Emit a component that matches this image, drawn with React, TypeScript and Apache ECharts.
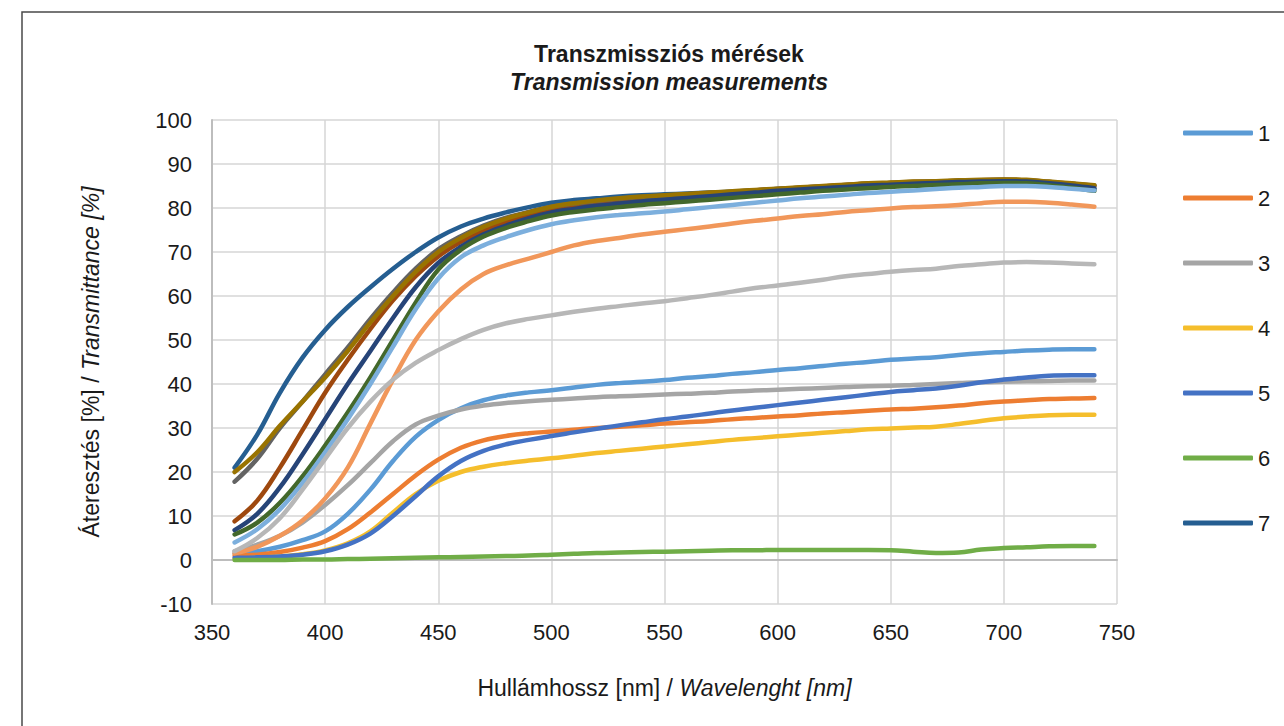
import React, { useEffect, useRef } from "react";
import * as echarts from "echarts";

const wavelengths = [360, 370, 380, 390, 400, 410, 420, 430, 440, 450, 460, 470, 480, 490, 500, 510, 520, 530, 540, 550, 560, 570, 580, 590, 600, 610, 620, 630, 640, 650, 660, 670, 680, 690, 700, 710, 720, 730, 740];

const s1 = [1.5, 2, 3, 4.5, 6.5, 10.5, 16, 22.5, 28, 31.8, 34.5, 36.3, 37.4, 38.1, 38.6, 39.2, 39.8, 40.2, 40.5, 40.9, 41.4, 41.8, 42.3, 42.7, 43.2, 43.6, 44.1, 44.6, 45, 45.5, 45.8, 46.1, 46.6, 47, 47.3, 47.6, 47.8, 47.9, 47.9];
const s2 = [1, 1.2, 1.8, 2.8, 4.3, 7, 10.8, 15, 19.2, 22.8, 25.5, 27.2, 28.2, 28.8, 29.2, 29.6, 30, 30.3, 30.6, 31, 31.3, 31.6, 32, 32.3, 32.6, 32.9, 33.3, 33.6, 33.9, 34.2, 34.4, 34.7, 35.1, 35.6, 36, 36.3, 36.6, 36.7, 36.8];
const s3 = [2, 3.5, 5.5, 8.5, 12.5, 17, 22, 27, 30.8, 32.8, 34.2, 35.1, 35.7, 36.1, 36.4, 36.7, 37, 37.2, 37.4, 37.6, 37.8, 38, 38.3, 38.5, 38.7, 38.9, 39.1, 39.3, 39.5, 39.6, 39.8, 40, 40.2, 40.4, 40.5, 40.6, 40.7, 40.8, 40.8];
const s4 = [0.3, 0.5, 0.8, 1.3, 2.2, 3.8, 6.5, 10.8, 15, 18, 20, 21.2, 22, 22.6, 23.1, 23.7, 24.3, 24.8, 25.3, 25.8, 26.3, 26.8, 27.3, 27.7, 28.1, 28.5, 28.9, 29.3, 29.7, 29.9, 30.1, 30.3, 30.9, 31.6, 32.2, 32.6, 32.9, 33, 33];
const s5 = [0.5, 0.6, 0.8, 1.2, 2, 3.5, 6, 10, 14.5, 19, 22.5, 24.8, 26.3, 27.3, 28.2, 29, 29.8, 30.6, 31.3, 32, 32.6, 33.3, 34, 34.6, 35.2, 35.8, 36.4, 37, 37.6, 38.2, 38.6, 39, 39.6, 40.4, 41, 41.5, 41.9, 42, 42];
const s6 = [0, 0, 0, 0.1, 0.1, 0.2, 0.3, 0.4, 0.5, 0.6, 0.7, 0.8, 0.9, 1, 1.2, 1.4, 1.6, 1.7, 1.8, 1.9, 2, 2.1, 2.2, 2.2, 2.3, 2.3, 2.3, 2.3, 2.3, 2.2, 1.9, 1.6, 1.7, 2.4, 2.7, 2.9, 3.1, 3.2, 3.2];
const s7 = [21, 28.5, 38, 46, 52.3, 57.5, 62, 66.2, 70, 73.3, 75.8, 77.6, 79, 80.2, 81.2, 81.8, 82.2, 82.6, 82.9, 83.1, 83.3, 83.5, 83.7, 84, 84.3, 84.5, 84.7, 84.9, 85.1, 85.3, 85.5, 85.6, 85.8, 85.9, 86, 85.9, 85.5, 85, 84.3];
const s8 = [8.8, 13.5, 21, 29.5, 38, 45.5, 52.5, 59, 64.5, 69, 72.3, 74.8, 76.8, 78.3, 79.6, 80.4, 81.1, 81.6, 82, 82.4, 82.8, 83.2, 83.6, 84, 84.3, 84.6, 84.9, 85.2, 85.5, 85.7, 85.9, 86, 86.2, 86.3, 86.4, 86.3, 85.9, 85.5, 85];
const s9 = [17.8, 23, 30, 36, 42.2, 48.3, 54.8, 60.8, 66.2, 70.6, 73.6, 76, 77.8, 79.1, 80.3, 81, 81.6, 82.1, 82.5, 82.8, 83.1, 83.4, 83.7, 84, 84.3, 84.6, 84.9, 85.2, 85.5, 85.7, 85.9, 86, 86.2, 86.3, 86.4, 86.3, 85.9, 85.5, 85.1];
const s10 = [20, 24.5, 30.5, 36, 41.5, 47.5, 54, 60, 65.5, 70, 73.2, 75.7, 77.6, 79, 80.3, 81.1, 81.7, 82.2, 82.6, 82.9, 83.2, 83.5, 83.8, 84.1, 84.4, 84.7, 85, 85.3, 85.6, 85.8, 86, 86.1, 86.3, 86.4, 86.5, 86.4, 86, 85.6, 85.2];
const s11 = [6.8, 10.5, 16.5, 24, 32, 40, 47.5, 55, 62, 67.5, 71.2, 74, 76, 77.7, 79, 79.8, 80.5, 81, 81.5, 81.9, 82.3, 82.7, 83.1, 83.5, 83.9, 84.2, 84.5, 84.8, 85.1, 85.3, 85.5, 85.7, 85.9, 86, 86.1, 86, 85.6, 85.1, 84.5];
const s12 = [5.8, 8.5, 13, 19, 26, 33.5, 41.5, 50, 58.5, 66, 70.5, 73.5, 75.5, 77, 78.3, 79.1, 79.7, 80.2, 80.7, 81.1, 81.5, 81.9, 82.3, 82.7, 83.1, 83.5, 83.9, 84.2, 84.5, 84.8, 85, 85.2, 85.4, 85.6, 85.7, 85.6, 85.2, 84.6, 83.9];
const s13 = [4, 7, 11.5, 17.5, 24.5, 32, 40, 48.5, 57, 64, 68.8, 71.5, 73.4, 75, 76.3, 77.2, 77.9, 78.4, 78.8, 79.2, 79.7, 80.2, 80.7, 81.2, 81.7, 82.2, 82.6, 83, 83.4, 83.7, 84, 84.3, 84.6, 84.8, 85, 85, 84.8, 84.4, 84];
const s14 = [1.5, 3, 5.5, 9, 14, 21, 31, 41, 50, 56.5, 61.5, 65, 67, 68.5, 70, 71.5, 72.5, 73.2, 74, 74.6, 75.2, 75.8, 76.5, 77.1, 77.6, 78.2, 78.6, 79.1, 79.5, 79.9, 80.2, 80.4, 80.7, 81.1, 81.4, 81.4, 81.2, 80.8, 80.3];
const s15 = [2, 5, 9.5, 16, 23, 30, 36, 41, 44.8, 47.7, 50.2, 52.3, 53.8, 54.8, 55.6, 56.4, 57.1, 57.7, 58.3, 58.8, 59.5, 60.2, 61, 61.8, 62.4, 63, 63.7, 64.5, 65, 65.5, 65.9, 66.2, 66.8, 67.2, 67.6, 67.7, 67.6, 67.4, 67.2];

const seriesNames = ["1", "2", "3", "4", "5", "6", "7", "8", "9", "10", "11", "12", "13", "14", "15"];
const seriesColors = ["#5B9BD5", "#ED7D31", "#A5A5A5", "#F5BE2C", "#4472C4", "#70AD47", "#255E91", "#9E480E", "#636363", "#997300", "#264478", "#43682B", "#7CAFDD", "#F1975A", "#B7B7B7"];
const legendNames = ["1", "2", "3", "4", "5", "6", "7"];

const titleLine1 = "Transzmissziós mérések";
const titleLine2 = "Transmission measurements";

export default function App() {
  const ref = useRef<HTMLDivElement>(null);
  useEffect(() => {
    if (!ref.current) return;
    const chart = echarts.init(ref.current, null, { renderer: "svg" });
    const values = [s1, s2, s3, s4, s5, s6, s7, s8, s9, s10, s11, s12, s13, s14, s15];
    const font = "'Liberation Sans', Arial, Helvetica, sans-serif";
    const textColor = "#1a1a1a";
    chart.setOption({
      animation: false,
      backgroundColor: "#ffffff",
      textStyle: { fontFamily: font },
      title: [
        {
          text: titleLine1,
          left: 664,
          top: 37,
          textAlign: "center",
          textStyle: { fontSize: 23, fontWeight: "bold", color: textColor, fontFamily: font },
        },
        {
          text: titleLine2,
          left: 664,
          top: 65,
          textAlign: "center",
          textStyle: { fontSize: 23, fontWeight: "bold", fontStyle: "italic", color: textColor, fontFamily: font },
        },
      ],
      legend: {
        data: legendNames,
        orient: "vertical",
        left: 1178,
        top: 117,
        itemWidth: 70,
        itemHeight: 5,
        itemGap: 43,
        icon: "roundRect",
        textStyle: { fontSize: 22, color: textColor, lineHeight: 22, fontFamily: font },
      },
      grid: { left: 212, top: 120, right: 167, bottom: 122, containLabel: false, outerBoundsMode: "none" },
      xAxis: [
        {
          type: "value",
          min: 350,
          max: 750,
          interval: 50,
          name: "{n|Hullámhossz [nm] / }{i|Wavelenght [nm]}",
          nameLocation: "middle",
          nameGap: 72,
          nameTextStyle: {
            rich: {
              n: { fontSize: 23, color: textColor, fontFamily: font },
              i: { fontSize: 23, color: textColor, fontStyle: "italic", fontFamily: font },
            },
          },
          axisLine: { show: false, onZero: false },
          axisTick: { show: false },
          axisLabel: { fontSize: 22, color: textColor, margin: 17, fontFamily: font },
          splitLine: { show: true, lineStyle: { color: "#d6d6d6", width: 1.5 } },
        },
        {
          type: "value",
          min: 350,
          max: 750,
          position: "bottom",
          axisLine: { show: true, onZero: true, lineStyle: { color: "#bdbdbd", width: 2 } },
          axisTick: { show: false },
          axisLabel: { show: false },
          splitLine: { show: false },
        },
      ],
      yAxis: {
        type: "value",
        min: -10,
        max: 100,
        interval: 10,
        name: "{n|Áteresztés [%] / }{i|Transmittance [%]}",
        nameLocation: "middle",
        nameRotate: 90,
        nameGap: 110,
        nameTextStyle: {
          rich: {
            n: { fontSize: 23, color: textColor, fontFamily: font },
            i: { fontSize: 23, color: textColor, fontStyle: "italic", fontFamily: font },
          },
        },
        axisLine: { show: true, lineStyle: { color: "#bdbdbd", width: 2 } },
        axisTick: { show: false },
        axisLabel: { fontSize: 22, color: textColor, margin: 20, fontFamily: font },
        splitLine: { show: true, lineStyle: { color: "#d6d6d6", width: 1.5 } },
      },
      series: values.map((v, i) => ({
        name: seriesNames[i],
        type: "line",
        xAxisIndex: 0,
        data: wavelengths.map((w, j) => [w, v[j]]),
        smooth: 0.4,
        symbol: "none",
        lineStyle: { width: 4.5, color: seriesColors[i], cap: "round", join: "round" },
        itemStyle: { color: seriesColors[i] },
      })),
      graphic: [
        {
          type: "rect",
          silent: true,
          shape: { x: 22, y: 12, width: 1400, height: 900 },
          style: { fill: "none", stroke: "#4a4a4a", lineWidth: 1.5 },
        },
      ],
    });
    return () => chart.dispose();
  }, []);
  return <div ref={ref} style={{ position: "fixed", left: 0, top: 0, width: 1284, height: 726 }} />;
}
